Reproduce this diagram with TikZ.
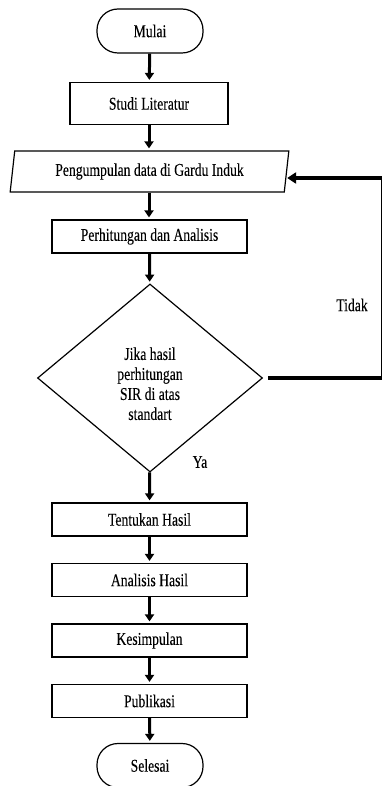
\documentclass[tikz,border=0pt]{standalone}
\usepackage{fontspec}
\setmainfont{Liberation Serif}[FakeStretch=0.76, FakeBold=0.1]
\usetikzlibrary{shapes.geometric, arrows.meta}

\begin{document}
\begin{tikzpicture}[x=1pt, y=-1pt,
  font=\fontsize{18}{20}\selectfont,
  terminal/.style={draw, line width=1.2pt, rounded corners=21pt, minimum width=106pt, minimum height=44pt, inner sep=0pt},
  proses/.style={draw, line width=1.2pt, minimum width=195pt, minimum height=33pt, inner sep=0pt},
  masukan/.style={draw, line width=1.2pt, trapezium, trapezium left angle=79, trapezium right angle=101,
    trapezium stretches=true, minimum width=279pt, minimum height=41pt, inner sep=0pt},
  keputusan/.style={draw, line width=1.2pt, diamond, minimum width=225pt, minimum height=188pt, inner sep=0pt, align=center},
  panah/.style={-{Triangle[width=9pt, length=7pt]}, line width=3pt, shorten >=2pt},
  balik/.style={-{Triangle[width=11pt, length=9pt]}, line width=3.5pt}]

\useasboundingbox (0,0) rectangle (382,786);

% Flow nodes
\node[terminal] (mulai) at (150,31) {Mulai};
\node[proses, minimum width=158pt, minimum height=42pt] (studi) at (149,103.5) {Studi Literatur};
\node[masukan] (data) at (149.5,171.5) {Pengumpulan data di Gardu Induk};
\node[proses] (hitung) at (149.5,236.5) {Perhitungan dan Analisis};
\node[keputusan] (kep) at (150,378) {\\[4pt]Jika hasil\\perhitungan\\SIR di atas\\standart};
\node[proses] (tentukan) at (149.5,519.5) {Tentukan Hasil};
\node[proses] (analisis) at (149.5,580) {Analisis Hasil};
\node[proses] (simpul) at (149.5,640.5) {Kesimpulan};
\node[proses] (publikasi) at (149.5,701) {Publikasi};
\node[terminal] (selesai) at (150,765.5) {Selesai};

% Main arrows
\draw[panah] (mulai) -- (studi);
\draw[panah] (studi) -- (studi |- data.north);
\draw[panah] (studi |- data.south) -- (studi |- hitung.north);
\draw[panah] (hitung) -- (kep);
\draw[panah] (kep) -- (tentukan);
\draw[panah] (tentukan) -- (analisis);
\draw[panah] (analisis) -- (simpul);
\draw[panah] (simpul) -- (publikasi);
\draw[panah] (publikasi) -- (selesai);

% Loop back (Tidak)
\coordinate (pojok) at (383.2,178);
\draw[balik] ([xshift=5pt]kep.east) -| (pojok) -- (data.east |- pojok);

% Labels
\node (ya) at (200,462) {Ya};
\node (tidak) at (352,305) {Tidak};

\end{tikzpicture}
\end{document}
